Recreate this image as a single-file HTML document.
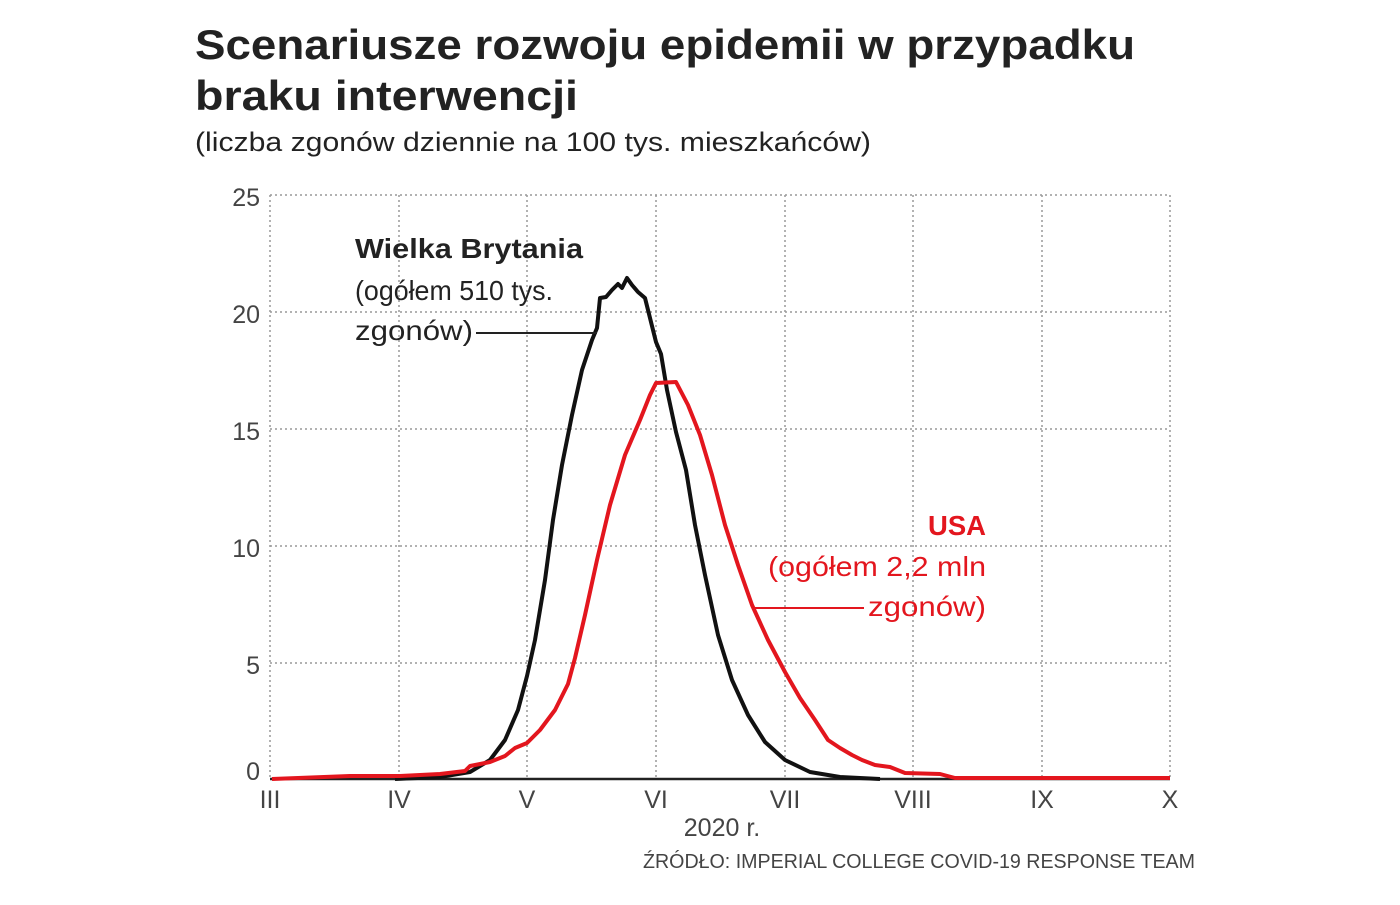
<!DOCTYPE html>
<html><head><meta charset="utf-8"><style>
body{margin:0;background:#fff;width:1400px;height:900px;overflow:hidden}
</style></head><body>
<svg width="1400" height="900" xmlns="http://www.w3.org/2000/svg" font-family="Liberation Sans, sans-serif">
<text x="195" y="59" font-size="42" font-weight="bold" fill="#222" textLength="940" lengthAdjust="spacingAndGlyphs">Scenariusze rozwoju epidemii w przypadku</text>
<text x="195" y="110" font-size="42" font-weight="bold" fill="#222" textLength="383" lengthAdjust="spacingAndGlyphs">braku interwencji</text>
<text x="195" y="151" font-size="27" fill="#222" textLength="676" lengthAdjust="spacingAndGlyphs">(liczba zgonów dziennie na 100 tys. mieszkańców)</text>
<g stroke="#999" stroke-width="1.5" stroke-dasharray="2,3" fill="none">
<line x1="270" y1="195" x2="1170" y2="195"/>
<line x1="270" y1="312" x2="1170" y2="312"/>
<line x1="270" y1="429" x2="1170" y2="429"/>
<line x1="270" y1="546" x2="1170" y2="546"/>
<line x1="270" y1="663" x2="1170" y2="663"/>
<line x1="270" y1="195" x2="270" y2="779"/>
<line x1="399" y1="195" x2="399" y2="779"/>
<line x1="527" y1="195" x2="527" y2="779"/>
<line x1="656" y1="195" x2="656" y2="779"/>
<line x1="785" y1="195" x2="785" y2="779"/>
<line x1="913" y1="195" x2="913" y2="779"/>
<line x1="1042" y1="195" x2="1042" y2="779"/>
<line x1="1170" y1="195" x2="1170" y2="779"/>
</g>
<line x1="270" y1="779" x2="1170" y2="779" stroke="#222" stroke-width="2.5"/>
<g font-size="25" fill="#444" text-anchor="end">
<text x="260" y="206">25</text><text x="260" y="323">20</text><text x="260" y="440">15</text>
<text x="260" y="557">10</text><text x="260" y="674">5</text><text x="260" y="780">0</text>
</g>
<g font-size="25" fill="#444" text-anchor="middle">
<text x="270" y="808">III</text><text x="399" y="808">IV</text><text x="527" y="808">V</text>
<text x="656" y="808">VI</text><text x="785" y="808">VII</text><text x="913" y="808">VIII</text>
<text x="1042" y="808">IX</text><text x="1170" y="808">X</text>
<text x="722" y="836">2020 r.</text>
</g>
<text x="1195" y="868" font-size="20" fill="#444" text-anchor="end" textLength="552" lengthAdjust="spacingAndGlyphs">ŹRÓDŁO: IMPERIAL COLLEGE COVID-19 RESPONSE TEAM</text>
<path fill="none" stroke="#111" stroke-width="4" stroke-linejoin="round" d="M395,779 L440,777 L470,772 L490,760 L505,740 L518,710 L527,676 L535,640 L545,580 L553,520 L562,465 L572,415 L582,370 L592,340 L597,328 L600,298 L606,297 L612,290 L618,284 L622,288 L627,278 L632,285 L638,292 L645,298 L650,318 L656,342 L661,354 L667,390 L676,432 L686,470 L695,525 L705,575 L718,635 L732,680 L748,715 L765,742 L785,760 L810,772 L840,777 L880,779"/>
<path fill="none" stroke="#e3161e" stroke-width="4" stroke-linejoin="round" d="M272,779 L350,776 L400,776 L440,774 L465,771 L470,766 L490,762 L505,756 L515,748 L527,743 L540,730 L555,710 L568,684 L575,658 L585,615 L597,560 L610,505 L625,455 L640,420 L650,395 L656,383 L676,382 L688,405 L700,435 L712,475 L725,525 L738,565 L752,605 L768,640 L785,672 L800,698 L815,720 L828,740 L840,748 L852,755 L862,760 L875,765 L890,767 L905,773 L940,774 L955,778 L1170,778"/>
<text x="355" y="258" font-size="28" font-weight="bold" fill="#222" textLength="228" lengthAdjust="spacingAndGlyphs">Wielka Brytania</text>
<text x="355" y="300" font-size="28" fill="#222" textLength="198" lengthAdjust="spacingAndGlyphs">(ogółem 510 tys.</text>
<text x="355" y="340" font-size="28" fill="#222" textLength="118" lengthAdjust="spacingAndGlyphs">zgonów)</text>
<line x1="476" y1="333" x2="597" y2="333" stroke="#222" stroke-width="2"/>
<text x="986" y="535" font-size="28" font-weight="bold" fill="#e3161e" text-anchor="end" textLength="58" lengthAdjust="spacingAndGlyphs">USA</text>
<text x="986" y="576" font-size="28" fill="#e3161e" text-anchor="end" textLength="218" lengthAdjust="spacingAndGlyphs">(ogółem 2,2 mln</text>
<text x="986" y="616" font-size="28" fill="#e3161e" text-anchor="end" textLength="118" lengthAdjust="spacingAndGlyphs">zgonów)</text>
<line x1="755" y1="608" x2="864" y2="608" stroke="#e3161e" stroke-width="2"/>
</svg>
</body></html>
